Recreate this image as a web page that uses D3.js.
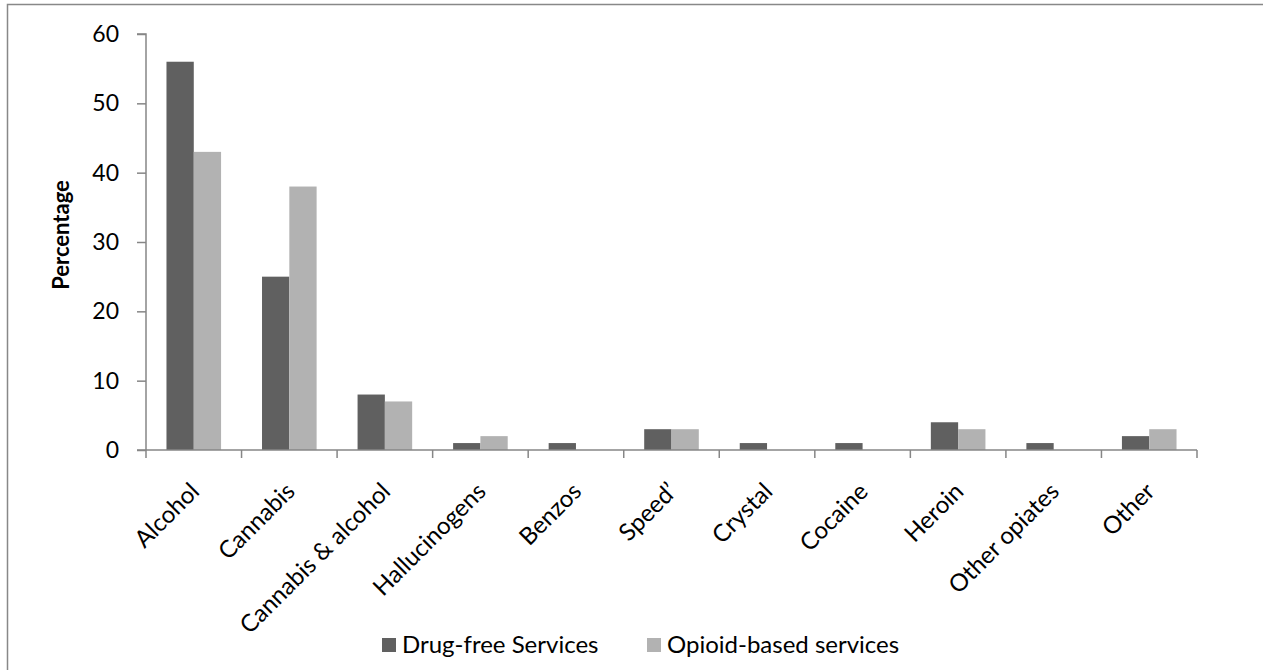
<!DOCTYPE html>
<html>
<head>
<meta charset="utf-8">
<script src="https://cdn.jsdelivr.net/npm/d3@7"></script>
<style>
  body { margin: 0; background: #fff; }
  svg text { font-family: Lato, "Open Sans", sans-serif; fill: #000; }
</style>
</head>
<body>
<div id="visual"></div>
<script>
// chart values
const categories = ["Alcohol", "Cannabis", "Cannabis & alcohol", "Hallucinogens", "Benzos", "Speed\u2019", "Crystal", "Cocaine", "Heroin", "Other opiates", "Other"];
const drugFree = [56, 25, 8, 1, 1, 3, 1, 1, 4, 1, 2];
const opioidBased = [43, 38, 7, 2, 0, 3, 0, 0, 3, 0, 3];
const seriesNames = ["Drug-free Services", "Opioid-based services"];
const yTicks = [0, 10, 20, 30, 40, 50, 60];

const width = 1263, height = 670;
const margin = { top: 34, right: 66, bottom: 220, left: 146 };
const colors = ["#606060", "#b2b2b2"];
const axisColor = "#868686";

const svg = d3.select("#visual")
    .append("svg")
    .attr("width", width)
    .attr("height", height);

// outer frame (top + left edges visible)
svg.append("path")
    .attr("d", "M7.5,670 V4.5 H1263")
    .attr("fill", "none")
    .attr("stroke", "#888")
    .attr("stroke-width", 1.5);

const x = d3.scaleBand()
    .domain(categories)
    .range([margin.left, width - margin.right])
    .paddingInner(0)
    .paddingOuter(0);

const xs = d3.scaleBand()
    .domain([0, 1])
    .range([0, x.bandwidth()])
    .paddingInner(0)
    .paddingOuter(0.75);

const y = d3.scaleLinear()
    .domain([0, 60])
    .range([height - margin.bottom, margin.top]);

const data = categories.map((c, i) => ({ cat: c, vals: [drugFree[i], opioidBased[i]] }));

// bars
const groups = svg.append("g")
    .selectAll("g")
    .data(data)
    .join("g")
    .attr("transform", d => "translate(" + x(d.cat) + ",0)");

groups.selectAll("rect")
    .data(d => d.vals.map((v, k) => ({ k, v })))
    .join("rect")
    .attr("x", d => xs(d.k))
    .attr("width", xs.bandwidth())
    .attr("y", d => y(d.v))
    .attr("height", d => y(0) - y(d.v))
    .attr("fill", d => colors[d.k]);

// y axis
const yAxis = svg.append("g")
    .attr("transform", "translate(" + margin.left + ",0)")
    .call(d3.axisLeft(y).tickValues(yTicks).tickSize(9).tickPadding(18));
yAxis.select(".domain").attr("stroke", axisColor).attr("stroke-width", 1.5).attr("d", "M-9," + y(60) + "H0V" + y(0));
yAxis.selectAll(".tick line").attr("stroke", axisColor).attr("stroke-width", 1.5);
yAxis.selectAll(".tick text").style("font-size", "23px");

// x axis
const xAxis = svg.append("g")
    .attr("transform", "translate(0," + y(0) + ")")
    .call(d3.axisBottom(x).tickSize(0).tickFormat(""));
xAxis.select(".domain").attr("stroke", axisColor).attr("stroke-width", 1.5)
    .attr("d", "M" + (margin.left - 9) + ",0H" + (width - margin.right));
xAxis.selectAll(".tick").remove();

// category boundary ticks
const bounds = categories.map(c => x(c)).concat([x(categories[categories.length - 1]) + x.bandwidth()]);
svg.append("g")
    .selectAll("line")
    .data(bounds)
    .join("line")
    .attr("x1", d => d).attr("x2", d => d)
    .attr("y1", y(0)).attr("y2", y(0) + 8)
    .attr("stroke", axisColor)
    .attr("stroke-width", 1.5);

// rotated category labels
svg.append("g")
    .selectAll("text")
    .data(categories)
    .join("text")
    .attr("transform", d => "translate(" + (x(d) + x.bandwidth() / 2 + 1) + "," + (y(0) + 37) + ") rotate(-45)")
    .attr("text-anchor", "end")
    .attr("dy", "0.35em")
    .style("font-size", "24px")
    .text(d => d);

// y axis title
svg.append("text")
    .attr("transform", "translate(69," + ((y(0) + y(60)) / 2 - 7) + ") rotate(-90)")
    .attr("text-anchor", "middle")
    .style("font-size", "22px")
    .style("font-weight", "bold")
    .text("Percentage");

// legend
const legendX = [382, 647];
const legend = svg.append("g")
    .selectAll("g")
    .data(seriesNames)
    .join("g")
    .attr("transform", (d, i) => "translate(" + legendX[i] + ",638)");
legend.append("rect")
    .attr("width", 14).attr("height", 14)
    .attr("fill", (d, i) => colors[i]);
legend.append("text")
    .attr("x", 20).attr("y", 7)
    .attr("dy", "0.35em")
    .style("font-size", "24px")
    .text(d => d);
</script>
</body>
</html>
